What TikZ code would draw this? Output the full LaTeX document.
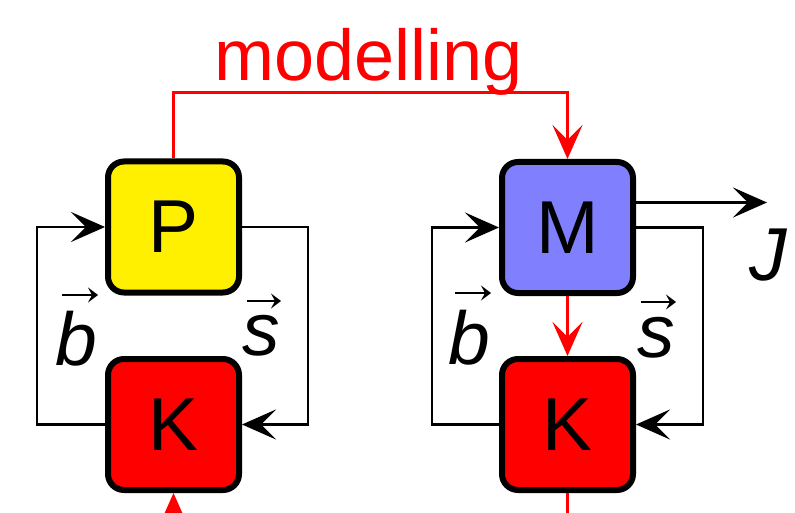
\RequirePackage{fix-cm}
\documentclass[tikz,border=0pt]{standalone}
\usepackage{fontspec}
\setmainfont{Liberation Sans}
\usetikzlibrary{arrows.meta}
\definecolor{boxyellow}{RGB}{255,240,0}
\definecolor{boxblue}{RGB}{128,128,255}
\definecolor{boxred}{RGB}{255,0,0}
\begin{document}
\begin{tikzpicture}[x=1pt,y=-1pt,
  box/.style={draw=black, line width=6pt, rounded corners=16pt,
    minimum width=131pt, minimum height=131pt, inner sep=0pt,
    font=\fontsize{75}{90}\selectfont},
  tip/.style={-{Stealth[length=34pt,width=30pt,inset=15pt]}},
  vectip/.style={line width=2pt, -{Stealth[length=10pt,width=15pt,inset=4pt]}},
  conn/.style={draw=black, line width=2.8pt},
  redconn/.style={draw=boxred, line width=2.8pt},
  lbl/.style={inner sep=0pt, font=\fontsize{75}{90}\selectfont},
  redlbl/.style={inner sep=0pt, text=boxred, font=\fontsize{72}{86}\selectfont}
]
\useasboundingbox (0,0) rectangle (795,513);
\clip (0,0) rectangle (795,513);

\node[box, fill=boxyellow] (P) at (173.5,227) {P};
\node[box, fill=boxred] (K1) at (173.5,424.5) {K};
\node[box, fill=boxblue] (M) at (567.5,227.5) {M};
\node[box, fill=boxred] (K2) at (567.5,424.5) {K};

\coordinate (inK) at (173.5,535);
\coordinate (outK) at (567.5,520);

% left loop
\draw[conn, tip] (K1.west) -- ++(-68,0) |- (P.west);
\draw[conn, tip] (P.east) -- ++(66,0) |- (K1.east);
% right loop
\draw[conn, tip] (K2.west) -- ++(-67,0) |- (M.west);
\draw[conn, tip] (M.east) -- ++(67,0) |- (K2.east);
% J output
\draw[conn, tip] ([yshift=25pt]M.east) -- ++(131,0) coordinate (Jend);
\node[lbl] (J) at (769,255) {\textit{J}};

% red modelling
\draw[redconn, tip] (P.north) -- ++(0,-66) -| (M.north);
\node[redlbl, anchor=base] (mod) at (369,81) {modelling};
\draw[redconn, tip] (M.south) -- (K2.north);
\draw[redconn] (K2.south) -- (outK);
\draw[redconn, tip] (inK) -- (K1.south);

% vector labels
\node[lbl, anchor=base] (b1) at (76,365) {\textit{b}};
\node[lbl, anchor=base] (s1) at (261,355) {\textit{s}};
\node[lbl, anchor=base] (b2) at (469,364) {\textit{b}};
\node[lbl, anchor=base] (s2) at (656,357) {\textit{s}};
\coordinate (b1a) at (62,295); \coordinate (b1b) at (98,295);
\coordinate (s1a) at (247,301); \coordinate (s1b) at (281,301);
\coordinate (b2a) at (455,293); \coordinate (b2b) at (491,293);
\coordinate (s2a) at (641,302); \coordinate (s2b) at (676,302);
\draw[vectip] (b1a) -- (b1b);
\draw[vectip] (s1a) -- (s1b);
\draw[vectip] (b2a) -- (b2b);
\draw[vectip] (s2a) -- (s2b);
\end{tikzpicture}
\end{document}
